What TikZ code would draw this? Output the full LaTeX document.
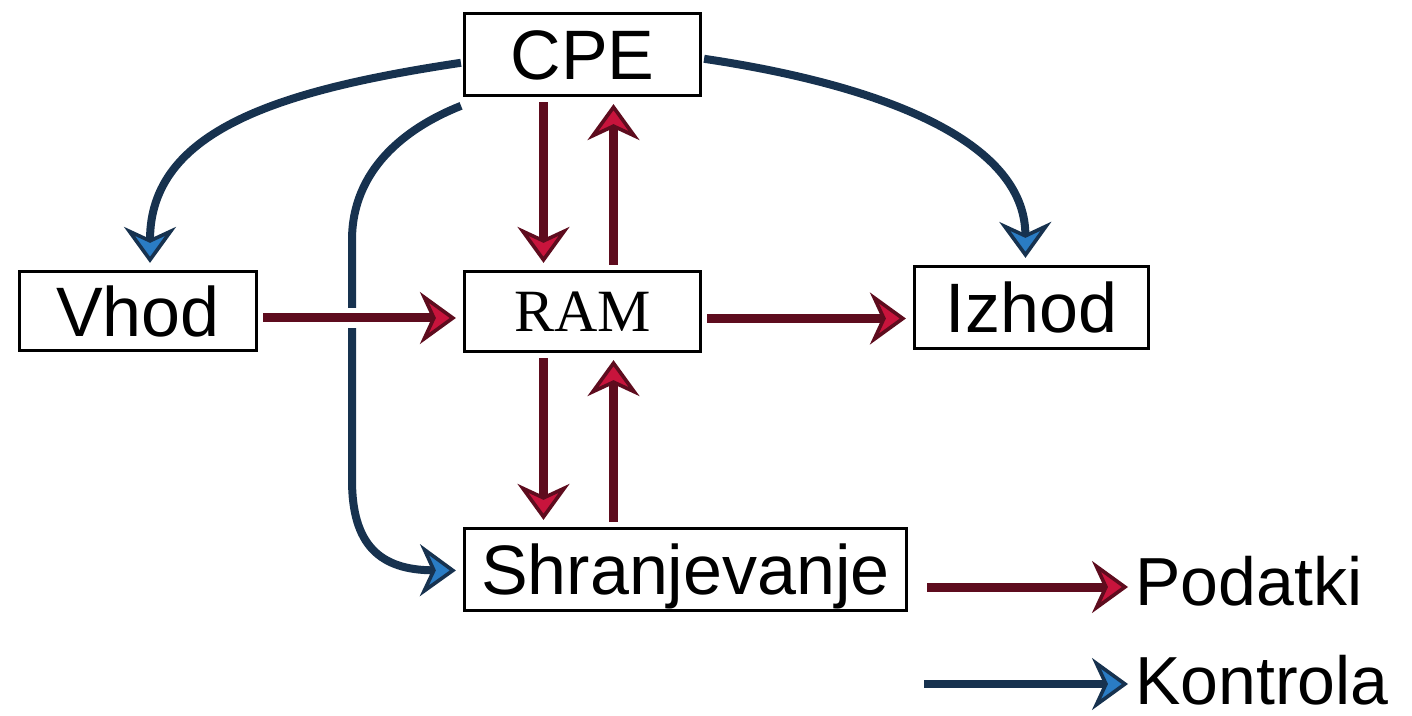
\documentclass[tikz,border=0pt]{standalone}
\usepackage{fontspec}
\setmainfont{Liberation Sans}
\newfontfamily\ramfont{Liberation Serif}
\usetikzlibrary{arrows.meta}
\definecolor{datared}{HTML}{C8143C}
\definecolor{datadark}{HTML}{5E0C1E}
\definecolor{ctrlblue}{HTML}{2A7CC4}
\definecolor{ctrldark}{HTML}{17324F}

\begin{document}
\begin{tikzpicture}[x=0.5pt, y=-0.5pt,
    box/.style={draw, line width=1.6pt, inner sep=0pt, font=\fontsize{35}{40}\selectfont, text height=25pt, text depth=0pt},
    label/.style={anchor=west, inner sep=0pt, font=\fontsize{34}{38}\selectfont, text height=24pt, text depth=0pt},
    data/.style={draw=datadark, line width=4.5pt, shorten <=2.5pt, shorten >=3.5pt,
        -{Stealth[length=18pt, width=26pt, inset=6pt, fill=datared, line width=1.8pt]}},
    ctrl/.style={draw=ctrldark, line width=4pt, shorten <=1pt, shorten >=3.5pt,
        -{Stealth[length=18pt, width=26pt, inset=6pt, fill=ctrlblue, line width=1.8pt]}},
    gap/.style={preaction={draw=white, line width=10pt, -}}
]
\useasboundingbox (0,0) rectangle (1412,716);

\node[box, minimum width=118pt, minimum height=41pt] (cpe) at (582.5,54.5) {CPE};
\node[box, minimum width=118.5pt, minimum height=39.5pt] (vhod) at (138,311) {Vhod};
\node[box, minimum width=118pt, minimum height=40pt, font=\ramfont\fontsize{30}{34}\selectfont, text height=20pt] (ram) at (582.5,311.5) {RAM};
\node[box, minimum width=117pt, minimum height=41pt] (izhod) at (1031.5,307.5) {Izhod};
\node[box, minimum width=221pt, minimum height=41pt] (shr) at (685.5,569.5) {Shranjevanje};

\node[label] (podatki) at (1135,581) {Podatki};
\node[label] (kontrola) at (1135,680) {Kontrola};
\coordinate (pstart) at (922,587);
\coordinate (kstart) at (922,684);

% kontrola
\draw[ctrl] ([yshift=-4pt]cpe.west) .. controls (280,90) and (150,130) .. ([xshift=6pt]vhod.north);
\draw[ctrl] ([yshift=-2pt]cpe.east) .. controls (880,85) and (1025,140) .. ([xshift=-3pt]izhod.north);
\draw[ctrl] ([yshift=-4pt]cpe.south west) .. controls (405,128) and (352,170) .. (352,240)
    -- (352,480) .. controls (352,545) and (380,570) .. ([yshift=-0.5pt]shr.west);

% podatki
\draw[data] ([xshift=-19.5pt]cpe.south) -- ([xshift=-19.5pt]ram.north);
\draw[data] ([xshift=15.5pt]ram.north) -- ([xshift=15.5pt]cpe.south);
\draw[data, gap] ([yshift=-3.5pt]vhod.east) -- ([yshift=-3.5pt]vhod.east -| ram.west);
\draw[data] ([yshift=-3.5pt]ram.east) -- ([yshift=-3.5pt]ram.east -| izhod.west);
\draw[data] ([xshift=-19.5pt]ram.south) -- ([xshift=-19.5pt]ram.south |- shr.north);
\draw[data] ([xshift=15.5pt]ram.south |- shr.north) -- ([xshift=15.5pt]ram.south);

\draw[data] (pstart) -- (pstart -| podatki.west);
\draw[ctrl] (kstart) -- (kstart -| kontrola.west);
\end{tikzpicture}
\end{document}
